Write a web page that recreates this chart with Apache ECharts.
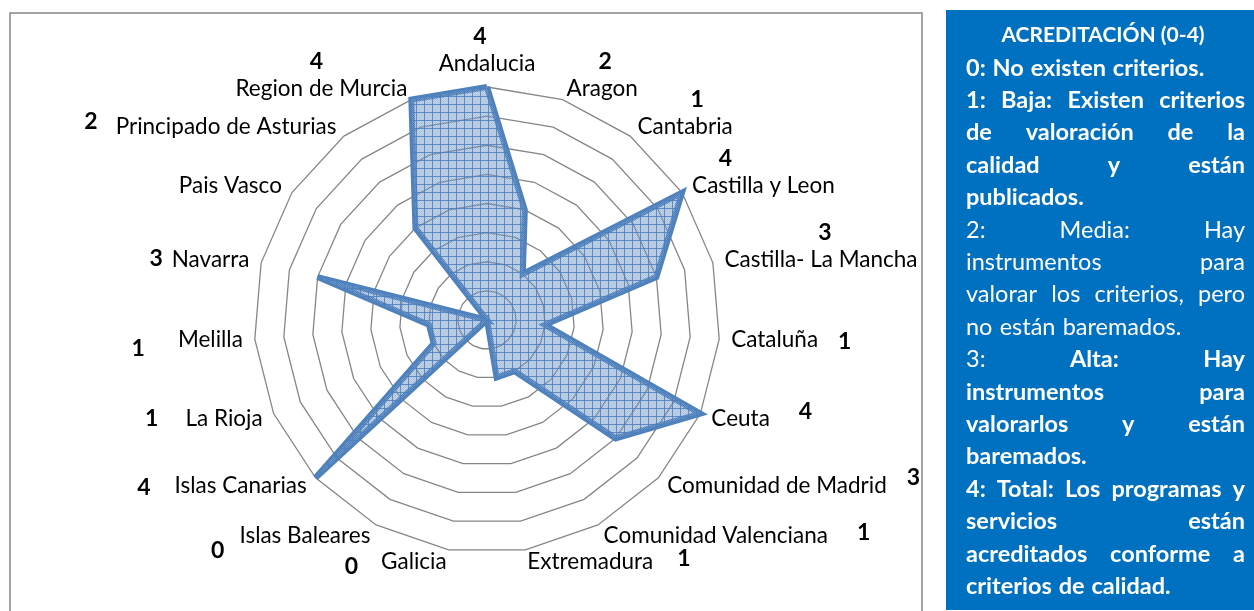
<!DOCTYPE html>
<html>
<head>
<meta charset="utf-8">
<title>Acreditación (0-4)</title>
<script src="https://cdn.jsdelivr.net/npm/echarts@6/dist/echarts.min.js"></script>
<style>
    html, body { margin: 0; padding: 0; background: #fff; }
    #chart { width: 1254px; height: 611px; }
</style>
</head>
<body>
<div id="chart"></div>
<script>
// regions in the order Excel draws them: clockwise from the top
const regions = ['Andalucia', 'Aragon', 'Cantabria', 'Castilla y Leon', 'Castilla- La Mancha', 'Cataluña',
    'Ceuta', 'Comunidad de Madrid', 'Comunidad Valenciana', 'Extremadura', 'Galicia', 'Islas Baleares',
    'Islas Canarias', 'La Rioja', 'Melilla', 'Navarra', 'Pais Vasco', 'Principado de Asturias', 'Region de Murcia'];
const scores = [4, 2, 1, 4, 3, 1, 4, 3, 1, 1, 0, 0, 4, 1, 1, 3, 0, 2, 4];
// the bold numbers printed beside the names (Pais Vasco has none)
const scoreLabels = ['4', '2', '1', '4', '3', '1', '4', '3', '1', '1', '0', '0', '4', '1', '1', '3', '', '2', '4'];
const maxScore = 4;
const ringCount = 8;

// where each bold number sits against its region name
const labelPlace = [
    { side: 'top', dx: -7, keepBottom: true }, // Andalucia
    { side: 'top', dx: 3 },
    { side: 'top', dx: 12 },
    { side: 'top', dx: -38 },
    { side: 'top', dx: 4 },
    { side: 'right', gap: 20, dy: 1 },
    { side: 'right', gap: 29, dy: -7 },
    { side: 'right', gap: 20, dy: -8 },
    { side: 'right', gap: 29, dy: -3 },
    { side: 'right', gap: 24, dy: -3 },
    { side: 'left', gap: 23, dy: 5 },
    { side: 'left', gap: 15, dy: 15 },
    { side: 'left', gap: 24, dy: 2 },
    { side: 'left', gap: 27, dy: 0 },
    { side: 'left', gap: 33, dy: 8 },
    { side: 'left', gap: 9, dy: -1 },
    { side: 'none' },
    { side: 'left', gap: 18, dy: -5 },
    { side: 'top', dx: -5 }
];

// text of the blue box; '~' marks a word set in regular weight
const panelTitle = 'ACREDITACIÓN (0-4)';
const panelLines = [
    ['0: No existen criterios.', 'bold', false],
    ['1: Baja: Existen criterios', 'bold', true],
    ['de valoración de la', 'bold', true],
    ['calidad y están', 'bold', true],
    ['publicados.', 'bold', false],
    ['2: Media: Hay', 'normal', true],
    ['instrumentos para', 'normal', true],
    ['valorar los criterios, pero', 'normal', true],
    ['no están baremados.', 'normal', false],
    ['~3: Alta: Hay', 'bold', true],
    ['instrumentos para', 'bold', true],
    ['valorarlos y están', 'bold', true],
    ['baremados.', 'bold', false],
    ['4: Total: Los programas y', 'bold', true],
    ['servicios están', 'bold', true],
    ['acreditados conforme a', 'bold', true],
    ['criterios de calidad.', 'bold', false]
];

const lineBlue = '#4F81BD';
const nameFont = 'Lato';
const nameSize = 22.5;

// ECharts lays radar indicators out anticlockwise, so walk the list backwards after the first
const order = regions.map((_, i) => (regions.length - i) % regions.length);

// crosshatch fill like the Excel pattern
function makePattern() {
    const c = document.createElement('canvas');
    c.width = 8;
    c.height = 8;
    const ctx = c.getContext('2d');
    ctx.fillStyle = 'rgba(79, 129, 189, 0.45)';
    ctx.fillRect(0, 0, 8, 8);
    ctx.fillStyle = 'rgba(255, 255, 255, 0.18)';
    for (let y = 1; y < 8; y++) {
        for (let x = 1 + (y % 2); x < 8; x += 2) ctx.fillRect(x, y, 1, 1);
    }
    ctx.fillStyle = 'rgba(79, 129, 189, 0.85)';
    ctx.fillRect(0, 0, 8, 1);
    ctx.fillRect(0, 0, 1, 8);
    return c;
}

let rich = {
    n: { fontFamily: nameFont, fontSize: nameSize, color: '#000', verticalAlign: 'middle' },
    nTop: { fontFamily: nameFont, fontSize: nameSize, color: '#000', verticalAlign: 'middle', padding: [0, 0, 27, 0] }
};
labelPlace.forEach(function(p, i) {
    let s = { fontFamily: nameFont, fontSize: 23, fontWeight: 'bold', color: '#000', verticalAlign: 'middle' };
    if (p.side === 'top') {
        s.align = 'center';
        s.padding = [0, p.dx < 0 ? -2 * p.dx : 0, 4, p.dx > 0 ? 2 * p.dx : 0];
    } else if (p.side === 'right') {
        s.padding = [p.dy > 0 ? 2 * p.dy : 0, 0, p.dy < 0 ? -2 * p.dy : 0, p.gap];
    } else if (p.side === 'left') {
        s.padding = [p.dy > 0 ? 2 * p.dy : 0, p.gap, p.dy < 0 ? -2 * p.dy : 0, 0];
    }
    rich['v' + i] = s;
});

function nameLabel(name) {
    let i = regions.indexOf(name);
    let p = labelPlace[i];
    let t = scoreLabels[i];
    if (p.side === 'top') return '{v' + i + '|' + t + '}\n{' + (p.keepBottom ? 'n' : 'nTop') + '|' + name + '}';
    if (p.side === 'right') return '{n|' + name + '}{v' + i + '|' + t + '}';
    if (p.side === 'left') return '{v' + i + '|' + t + '}{n|' + name + '}';
    return '{n|' + name + '}';
}

// justified text of the blue box, one word at a time
function panelGraphics() {
    const left = 966, right = 1245, fontSize = 23.5, firstY = 68, step = 32.4;
    const ctx = document.createElement('canvas').getContext('2d');
    let items = [{
        type: 'rect',
        shape: { x: 946, y: 10, width: 308, height: 600 },
        style: { fill: '#0070C0' }
    }, {
        type: 'text',
        x: 1103,
        y: 35,
        style: { text: panelTitle, fill: '#fff', fontFamily: nameFont, fontWeight: 'bold', fontSize: 21, align: 'center', verticalAlign: 'middle' }
    }];
    panelLines.forEach(function(line, k) {
        let words = line[0].split(/\s+/).map(function(w) {
            let weight = w.charAt(0) === '~' ? 'normal' : line[1];
            let s = w.replace('~', '');
            ctx.font = weight + ' ' + fontSize + 'px ' + nameFont;
            return { s: s, weight: weight, w: ctx.measureText(s).width };
        });
        let total = words.reduce((a, b) => a + b.w, 0);
        ctx.font = line[1] + ' ' + fontSize + 'px ' + nameFont;
        let space = (line[2] && words.length > 1) ? (right - left - total) / (words.length - 1) : ctx.measureText(' ').width * 1.2;
        let x = left;
        let y = firstY + k * step;
        words.forEach(function(w) {
            items.push({
                type: 'text',
                x: x,
                y: y,
                style: { text: w.s, fill: '#fff', fontFamily: nameFont, fontWeight: w.weight, fontSize: fontSize, align: 'left', verticalAlign: 'middle' }
            });
            x += w.w + space;
        });
    });
    return items;
}

let chartElem = document.getElementById('chart');
let radarChart = echarts.init(chartElem, null, { renderer: 'canvas' });
radarChart.setOption({
    animation: false,
    graphic: [{
        type: 'rect',
        z: -10,
        shape: { x: 10, y: 13, width: 912, height: 610 },
        style: { fill: 'none', stroke: '#868686', lineWidth: 1.5 }
    }].concat(panelGraphics()),
    radar: {
        center: [487, 320],
        radius: 233,
        startAngle: 90,
        shape: 'polygon',
        splitNumber: ringCount,
        axisNameGap: 12,
        indicator: order.map(i => ({ name: regions[i], min: 0, max: maxScore })),
        axisName: {
            color: '#000',
            fontFamily: nameFont,
            fontSize: nameSize,
            formatter: nameLabel,
            rich: rich
        },
        axisLine: { show: false },
        axisTick: { show: false },
        axisLabel: { show: false },
        splitArea: { show: false },
        splitLine: {
            lineStyle: { color: '#868686', width: 1.3 }
        }
    },
    series: [{
        type: 'radar',
        symbol: 'none',
        silent: true,
        lineStyle: { color: lineBlue, width: 6, join: 'miter' },
        areaStyle: { color: { image: makePattern(), repeat: 'repeat' }, opacity: 1 },
        data: [{ value: order.map(i => scores[i]), name: 'Acreditación' }]
    }]
});
window.addEventListener('resize', function() {
    setTimeout(() => {
        radarChart.resize();
    }, 500);
});
</script>
</body>
</html>
